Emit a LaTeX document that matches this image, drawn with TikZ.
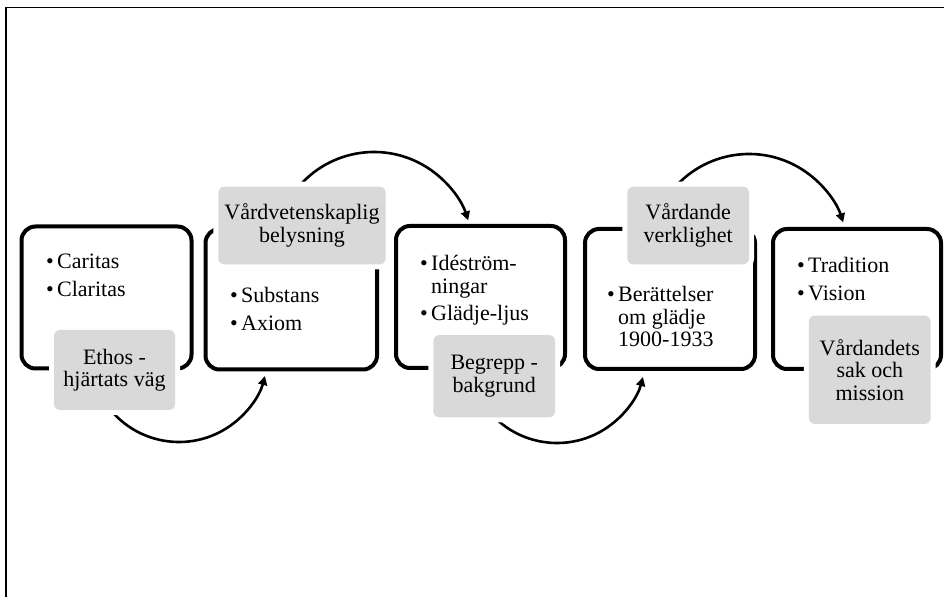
\documentclass[tikz,border=0pt]{standalone}
\usepackage{fontspec}
\setmainfont{Liberation Serif}
\usetikzlibrary{arrows.meta}
\definecolor{lblgray}{RGB}{217,217,217}
\newcommand{\bul}{\makebox[11pt][l]{•}}
\begin{document}
\begin{tikzpicture}[x=1pt,y=1pt,
  blackbox/.style={draw=black, line width=4pt, rounded corners=14pt, inner sep=0pt},
  lbl/.style={fill=lblgray, rounded corners=6pt, inner sep=0pt, align=center,
    font=\fontsize{22}{22.5}\selectfont, preaction={draw=white, line width=10pt}},
  bullets/.style={anchor=base west, inner sep=0pt, font=\fontsize{22}{22.5}\selectfont},
  flow/.style={line width=2.6pt, -{Triangle[length=9pt,width=9pt]}}
]
\useasboundingbox (0,0) rectangle (944,597);
% outer frame (open at right and bottom)
\coordinate (fb) at (6,0);
\coordinate (fc) at (6,589.7);
\coordinate (fr) at (944,589.7);
\draw[line width=1.5pt] (fb) -- (fc) -- (fr);

% black boxes
\node[blackbox, minimum width=170pt, minimum height=142pt] (b1) at (106.5,299.5) {};
\node[blackbox, minimum width=171.5pt, minimum height=140.5pt] (b2) at (291.25,297.75) {};
\node[blackbox, minimum width=169pt, minimum height=142pt] (b3) at (480.5,300) {};
\node[blackbox, minimum width=170pt, minimum height=140pt] (b4) at (670,298) {};
\node[blackbox, minimum width=168pt, minimum height=140pt] (b5) at (857,298) {};

% arc centres
\coordinate (c1) at (179,244);
\coordinate (c2) at (374,346);
\coordinate (c3) at (557,243);
\coordinate (c4) at (749,344);

% curved arrows
\draw[flow] ([shift={(215:89)}]c1) arc[start angle=215, end angle=345, radius=89];
\draw[flow] ([shift={(145:99)}]c2) arc[start angle=145, end angle=18, radius=99];
\draw[flow] ([shift={(215:89)}]c3) arc[start angle=215, end angle=345, radius=89];
\draw[flow] ([shift={(145:99)}]c4) arc[start angle=145, end angle=18, radius=99];

% grey labels
\node[lbl, minimum width=121pt, minimum height=80pt] (g1) at (114.5,227) {Ethos -\\hjärtats väg};
\node[lbl, minimum width=167.4pt, minimum height=77.6pt] (g2) at (302,371.5) {Vårdvetenskaplig\\belysning};
\node[lbl, minimum width=121.7pt, minimum height=82.3pt] (g3) at (494.2,220.8) {Begrepp -\\bakgrund};
\node[lbl, minimum width=121.7pt, minimum height=77.6pt] (g4) at (688.2,371.5) {Vårdande\\verklighet};
\node[lbl, minimum width=121.7pt, minimum height=108.3pt] (g5) at (869.8,227.2) {Vårdandets\\sak och\\mission};

% bullet texts
\node[bullets] (t1) at (46,328) {\begin{tabular}[t]{@{}l@{}l@{}}\bul&Caritas\\[5pt]\bul&Claritas\end{tabular}};
\node[bullets] (t2) at (230,294) {\begin{tabular}[t]{@{}l@{}l@{}}\bul&Substans\\[5pt]\bul&Axiom\end{tabular}};
\node[bullets] (t3) at (420,326) {\begin{tabular}[t]{@{}l@{}l@{}}\bul&Idéström-\\&ningar\\[5pt]\bul&Glädje-ljus\end{tabular}};
\node[bullets] (t4) at (607,295.3) {\begin{tabular}[t]{@{}l@{}l@{}}\bul&Berättelser\\&om glädje\\&1900-1933\end{tabular}};
\node[bullets] (t5) at (797,324.3) {\begin{tabular}[t]{@{}l@{}l@{}}\bul&Tradition\\[5pt]\bul&Vision\end{tabular}};
\end{tikzpicture}
\end{document}
